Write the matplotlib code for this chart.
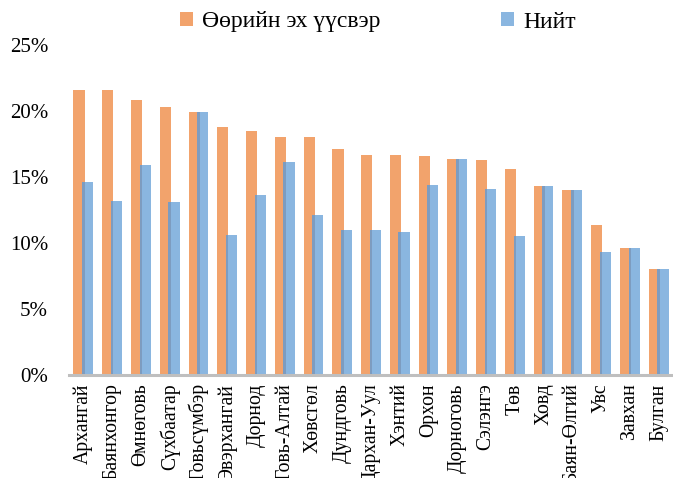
import matplotlib
matplotlib.use("Agg")
import matplotlib.pyplot as plt
import numpy as np
from matplotlib.ticker import FuncFormatter

plt.rcParams['font.family'] = ['Liberation Serif', 'DejaVu Serif']

categories = ["Архангай", "Баянхонгор", "Өмнөговь", "Сүхбаатар", "Говьсүмбэр",
              "Эвэрхангай", "Дорнод", "Говь-Алтай", "Хөвсгөл", "Дундговь",
              "Дархан-Уул", "Хэнтий", "Орхон", "Дорноговь", "Сэлэнгэ", "Төв",
              "Ховд", "Баян-Өлгий", "Увс", "Завхан", "Булган"]
own_source = [21.6, 21.6, 20.8, 20.3, 19.9, 18.8, 18.5, 18.0, 18.0, 17.1,
              16.7, 16.7, 16.6, 16.4, 16.3, 15.6, 14.3, 14.0, 11.4, 9.6, 8.0]
total = [14.6, 13.2, 15.9, 13.1, 19.9, 10.6, 13.6, 16.1, 12.1, 11.0,
         11.0, 10.8, 14.4, 16.4, 14.1, 10.5, 14.3, 14.0, 9.3, 9.6, 8.0]
series_names = ["Өөрийн эх үүсвэр", "Нийт"]
yticks = [0, 5, 10, 15, 20, 25]

orange = "#F2A36C"
blue = "#8AB6E0"
overlap_col = "#7D9CC0"

fig = plt.figure(figsize=(6.73, 4.78), dpi=100)
ax = fig.add_axes([69/673, 1 - 375/478, 1 - 69/673, (375 - 45)/478])

x = np.arange(len(categories))
w = 0.39
off = 0.15
ax.bar(x - off, own_source, w, color=orange, label=series_names[0], zorder=2)
ax.bar(x + off, total, w, color=blue, label=series_names[1], zorder=3)
# darker zone where the two bars overlap (shadow effect in the original)
ov = w - 2 * off
ax.bar(x + off - w / 2 + ov / 2, np.minimum(own_source, total), ov,
       color=overlap_col, zorder=3.5)

ax.set_xlim(-0.5, len(categories) - 0.5)
ax.set_ylim(0, 25)
ax.set_yticks(yticks)
ax.yaxis.set_major_formatter(FuncFormatter(lambda v, p: f"{int(v)}%"))
ax.set_xticks(x)
ax.set_xticklabels(categories, rotation=90, fontsize=14.2)
ax.tick_params(axis='y', length=0, pad=15, labelsize=15)
ax.tick_params(axis='x', length=0, pad=6)

for s in ['top', 'right', 'left']:
    ax.spines[s].set_visible(False)
ax.spines['bottom'].set_color('#BFBFBF')
ax.spines['bottom'].set_linewidth(2.2)
ax.spines['bottom'].set_zorder(4)

fig.legend(loc='center', bbox_to_anchor=(378/673, 1 - 22/478), ncol=2,
           frameon=False, fontsize=17, handlelength=0.55, handleheight=0.55,
           handletextpad=0.4, columnspacing=5.1)

fig.savefig("out.png", dpi=100)
